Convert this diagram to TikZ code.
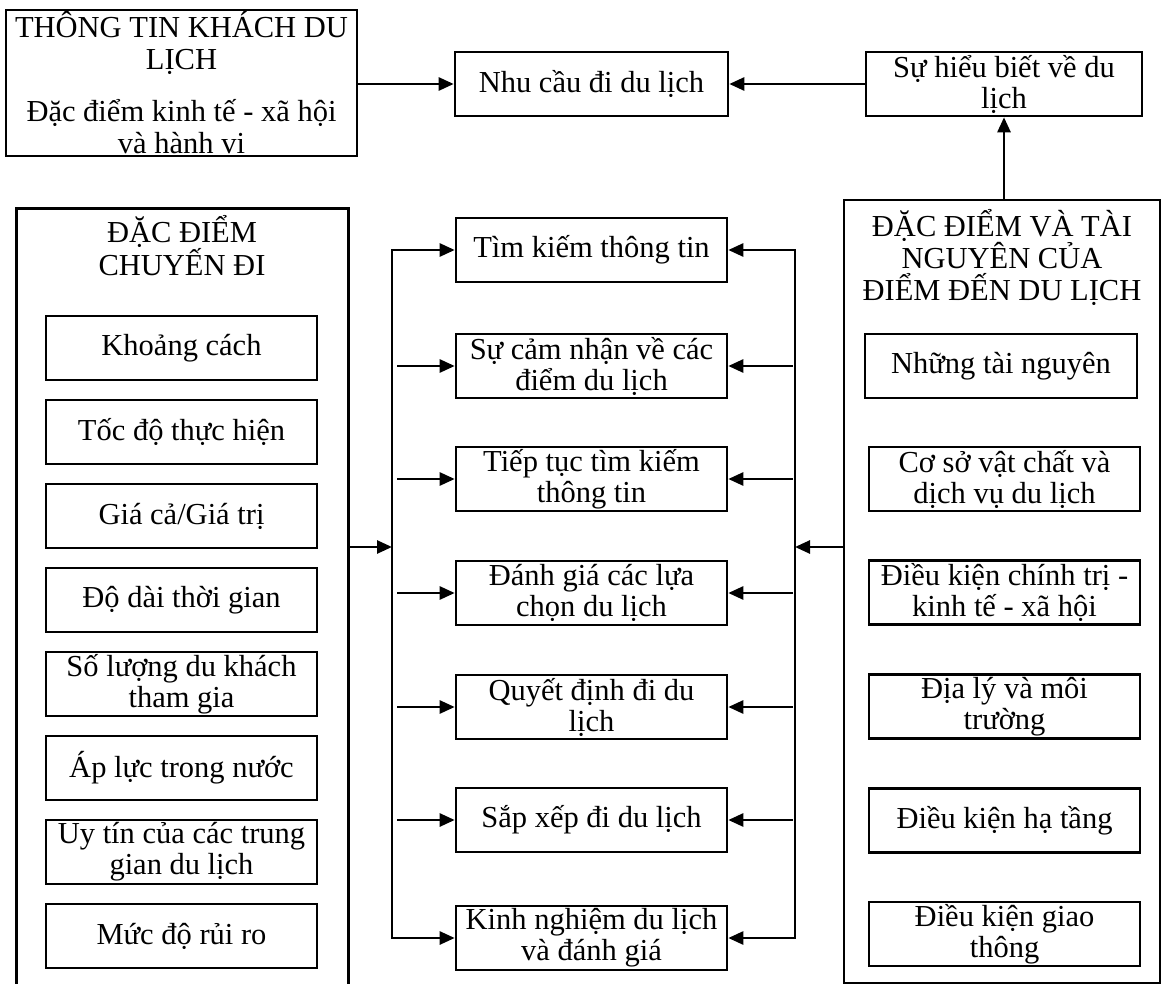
\documentclass[tikz,border=0pt]{standalone}
\usepackage{fontspec}
\setmainfont{Liberation Serif}
\usetikzlibrary{arrows.meta}

\begin{document}
\begin{tikzpicture}[x=1pt, y=-1pt,
  line width=2.6pt,
  font=\fontsize{30.5}{31}\selectfont,
  box/.style={draw, rectangle, inner sep=0pt, align=center,
              minimum width=271, minimum height=64},
  title/.style={inner sep=0pt, align=center, font=\fontsize{30.5}{32}\selectfont},
  arr/.style={-{Triangle[length=15pt,width=13pt]}},
  barr/.style={{Triangle[length=15pt,width=13pt]}-{Triangle[length=15pt,width=13pt]}},
]
\useasboundingbox (0,0) rectangle (1162,984);

% ---------- top row ----------
\node[draw, minimum width=351, minimum height=146, inner sep=0pt] (info) at (181.5,83) {};
\node[title] (infotext) at (181.5,82.5)
  {THÔNG TIN KHÁCH DU\\ LỊCH\\[20pt] Đặc điểm kinh tế - xã hội\\ và hành vi};
\node[box, minimum width=273] (nhucau) at (591.5,84) {Nhu cầu đi du lịch};
\node[box, minimum width=276] (hieubiet) at (1004,84) {Sự hiểu biết về du\\ lịch};

% ---------- left frame: trip characteristics (open at the bottom) ----------
\node[minimum width=329, minimum height=776, inner sep=0pt] (lbig) at (182.5,598) {};
\draw (lbig.south west) -- (lbig.north west) -- (lbig.north east) -- (lbig.south east);
\node[title, anchor=north] (ltitle) at (182,214) {ĐẶC ĐIỂM\\ CHUYẾN ĐI};

\node[box] (l1) at (181.5,348) {Khoảng cách};
\node[box] (l2) at (181.5,432) {Tốc độ thực hiện};
\node[box] (l3) at (181.5,516) {Giá cả/Giá trị};
\node[box] (l4) at (181.5,600) {Độ dài thời gian};
\node[box] (l5) at (181.5,684) {Số lượng du khách\\ tham gia};
\node[box] (l6) at (181.5,768) {Áp lực trong nước};
\node[box] (l7) at (181.5,852) {Uy tín của các trung\\ gian du lịch};
\node[box] (l8) at (181.5,936) {Mức độ rủi ro};

% ---------- middle column: decision steps ----------
\node[box] (m1) at (591.5,250) {Tìm kiếm thông tin};
\node[box] (m2) at (591.5,366) {Sự cảm nhận về các\\ điểm du lịch};
\node[box] (m3) at (591.5,479) {Tiếp tục tìm kiếm\\ thông tin};
\node[box] (m4) at (591.5,593) {Đánh giá các lựa\\ chọn du lịch};
\node[box] (m5) at (591.5,707) {Quyết định đi du\\ lịch};
\node[box] (m6) at (591.5,820) {Sắp xếp đi du lịch};
\node[box] (m7) at (591.5,938) {Kinh nghiệm du lịch\\ và đánh giá};

% ---------- right frame: destination characteristics ----------
\node[draw, minimum width=316, minimum height=783, inner sep=0pt] (rbig) at (1002,591.5) {};
\node[title, anchor=north] (rtitle) at (1002,208) {ĐẶC ĐIỂM VÀ TÀI\\ NGUYÊN CỦA\\ ĐIỂM ĐẾN DU LỊCH};

\node[box, minimum width=272] (r1) at (1001,366) {Những tài nguyên};
\node[box] (r2) at (1004.5,479) {Cơ sở vật chất và\\ dịch vụ du lịch};
\node[box] (r3) at (1004.5,592.5) {Điều kiện chính trị -\\ kinh tế - xã hội};
\node[box] (r4) at (1004.5,706.5) {Địa lý và môi\\ trường};
\node[box] (r5) at (1004.5,820.5) {Điều kiện hạ tầng};
\node[box] (r6) at (1004.5,934) {Điều kiện giao\\ thông};

% ---------- bus lines ----------
\coordinate (lbus) at (392,547);
\coordinate (rbus) at (795,547);

% top row connectors
\draw[arr] (info.east |- nhucau.west) -- (nhucau.west);
\draw[arr] (hieubiet.west) -- (nhucau.east);
\draw[arr] (rbig.north -| hieubiet.south) -- (hieubiet.south);

% left frame feeds the left bus
\draw[arr] (lbig.east |- lbus) -- (lbus);
\draw[barr] (m1.west) -- (lbus |- m1.west) -- (lbus |- m7.west) -- (m7.west);
\foreach \m in {m2,m3,m4,m5,m6}
  \draw[arr] ([xshift=5pt]lbus |- \m.west) -- (\m.west);

% right frame feeds the right bus
\draw[arr] (rbig.west |- rbus) -- (rbus);
\draw[barr] (m1.east) -- (rbus |- m1.east) -- (rbus |- m7.east) -- (m7.east);
\foreach \m in {m2,m3,m4,m5,m6}
  \draw[arr] ([xshift=-2pt]rbus |- \m.east) -- (\m.east);
\end{tikzpicture}
\end{document}
